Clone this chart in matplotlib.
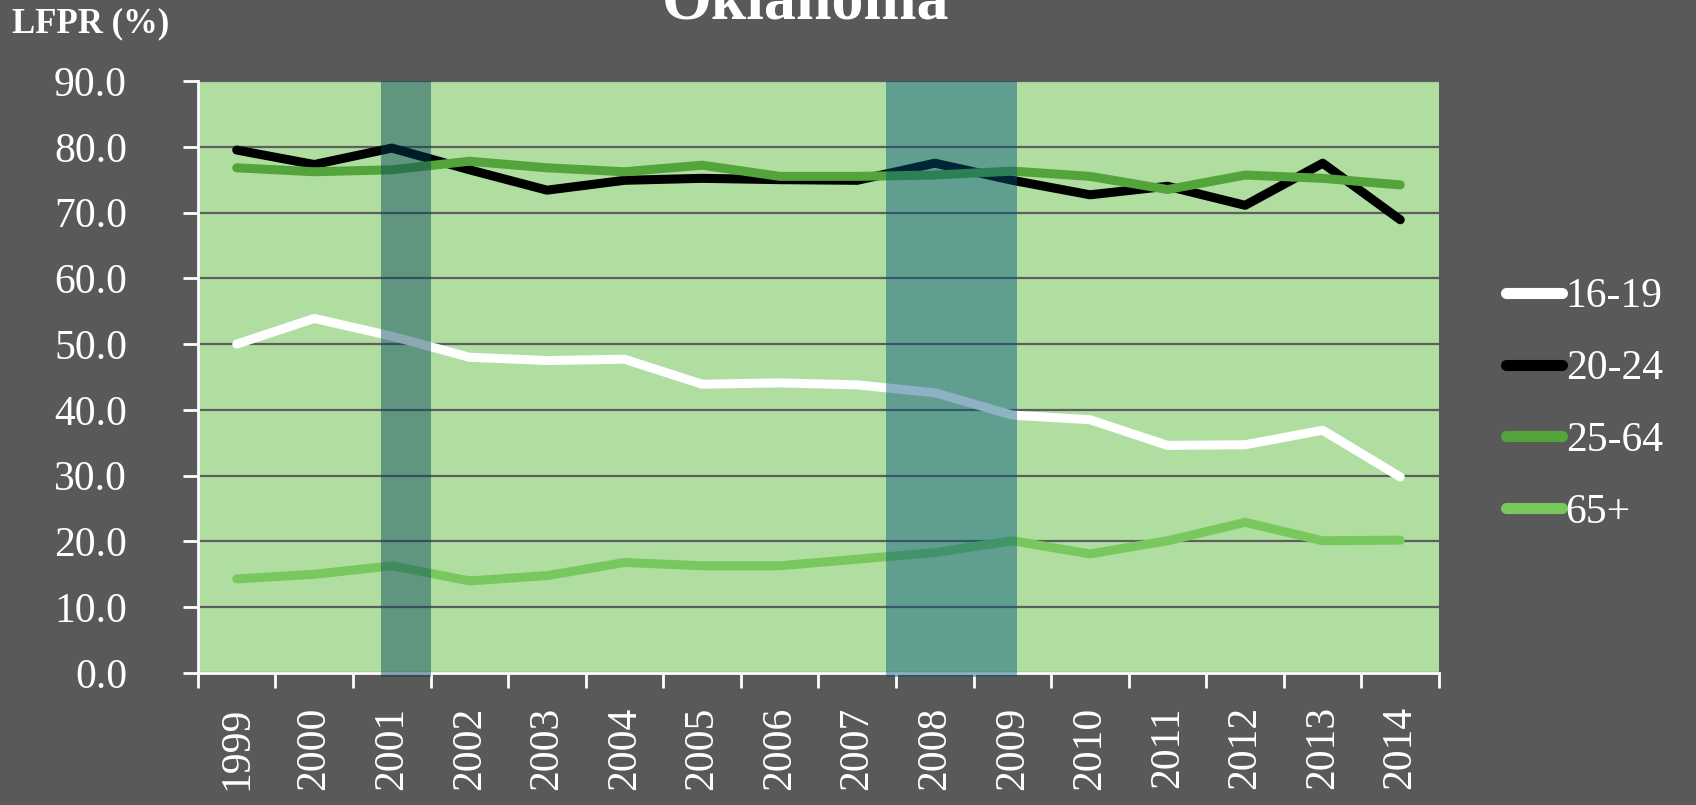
import matplotlib
matplotlib.use("Agg")
import matplotlib.pyplot as plt

# data
years = [str(y) for y in range(1999, 2015)]
lfpr_16_19 = [50.0, 53.9, 51.2, 48.0, 47.5, 47.7, 43.9, 44.1, 43.8, 42.6, 39.2, 38.5, 34.6, 34.7, 36.9, 29.8]
lfpr_20_24 = [79.5, 77.3, 79.8, 76.5, 73.4, 74.9, 75.2, 75.0, 74.9, 77.5, 74.9, 72.7, 74.0, 71.1, 77.5, 68.9]
lfpr_25_64 = [76.8, 76.2, 76.5, 77.8, 76.8, 76.2, 77.2, 75.5, 75.5, 75.7, 76.3, 75.5, 73.5, 75.7, 75.2, 74.2]
lfpr_65_up = [14.3, 15.0, 16.3, 14.0, 14.8, 16.8, 16.3, 16.3, 17.3, 18.3, 20.1, 18.1, 20.1, 22.9, 20.1, 20.2]
series_names = ["16-19", "20-24", "25-64", "65+"]

# recession shading in category units (index of year, fractional)
recession_start = [1.86, 8.37]
recession_end = [2.50, 10.06]

BG = "#595959"
PLOT_BG = "#b0dea1"
colors = ["#ffffff", "#000000", "#53a43a", "#78c85e"]
band_colors = ["#004058", "#00547a"]

plt.rcParams["font.family"] = ["Liberation Serif", "DejaVu Serif"]

fig = plt.figure(figsize=(16.96, 8.05), dpi=100, facecolor=BG)
ax = fig.add_axes([0.1167, 0.164, 0.7318, 0.7354])
ax.set_facecolor(PLOT_BG)

x = list(range(len(years)))
for vals, name, c in zip([lfpr_16_19, lfpr_20_24, lfpr_25_64, lfpr_65_up], series_names, colors):
    ax.plot(x, vals, color=c, lw=6.5, label=name, solid_capstyle="round", zorder=3)

for s, e, c in zip(recession_start, recession_end, band_colors):
    ax.axvspan(s, e, ymin=-0.006, ymax=1, color=c, alpha=0.45, lw=0, zorder=4, clip_on=False)

ax.set_xlim(-0.5, len(years) - 0.5)
ax.set_ylim(0, 90)

# y axis
ax.set_yticks(range(0, 91, 10))
ax.set_yticklabels(["%.1f" % v for v in range(0, 91, 10)], fontsize=30, color="white")
ax.yaxis.grid(True, color="#5e5e5e", lw=1.6, zorder=1)
ax.set_axisbelow(True)
ax.tick_params(axis="y", length=11, width=2, color="white", pad=40, direction="out")

# x axis: ticks at boundaries, labels at centers
ax.set_xticks([i - 0.5 for i in range(len(years) + 1)])
ax.set_xticklabels([])
ax.set_xticks(x, minor=True)
ax.set_xticklabels(years, minor=True, rotation=90, fontsize=30, color="white")
ax.tick_params(axis="x", which="major", length=11, width=2, color="white", direction="out")
ax.tick_params(axis="x", which="minor", length=0, pad=24)

for side in ["top", "right"]:
    ax.spines[side].set_visible(False)
for side in ["left", "bottom"]:
    ax.spines[side].set_color("white")
    ax.spines[side].set_linewidth(2)

fig.text(0.475, 0.9776, "Oklahoma", ha="center", va="baseline", fontsize=46,
         fontweight="bold", color="white")
fig.text(0.007, 0.97, "LFPR (%)", ha="left", va="center", fontsize=25,
         fontweight="bold", color="white")

leg = ax.legend(loc="center left", bbox_to_anchor=(0.888, 0.497), bbox_transform=fig.transFigure,
                frameon=False, fontsize=30, handlelength=1.35, handletextpad=0.08,
                labelspacing=0.8, borderpad=0, borderaxespad=0)
for t in leg.get_texts():
    t.set_color("white")
for h in leg.get_lines():
    h.set_linewidth(8)

fig.savefig("out.png", dpi=100, facecolor=BG)
